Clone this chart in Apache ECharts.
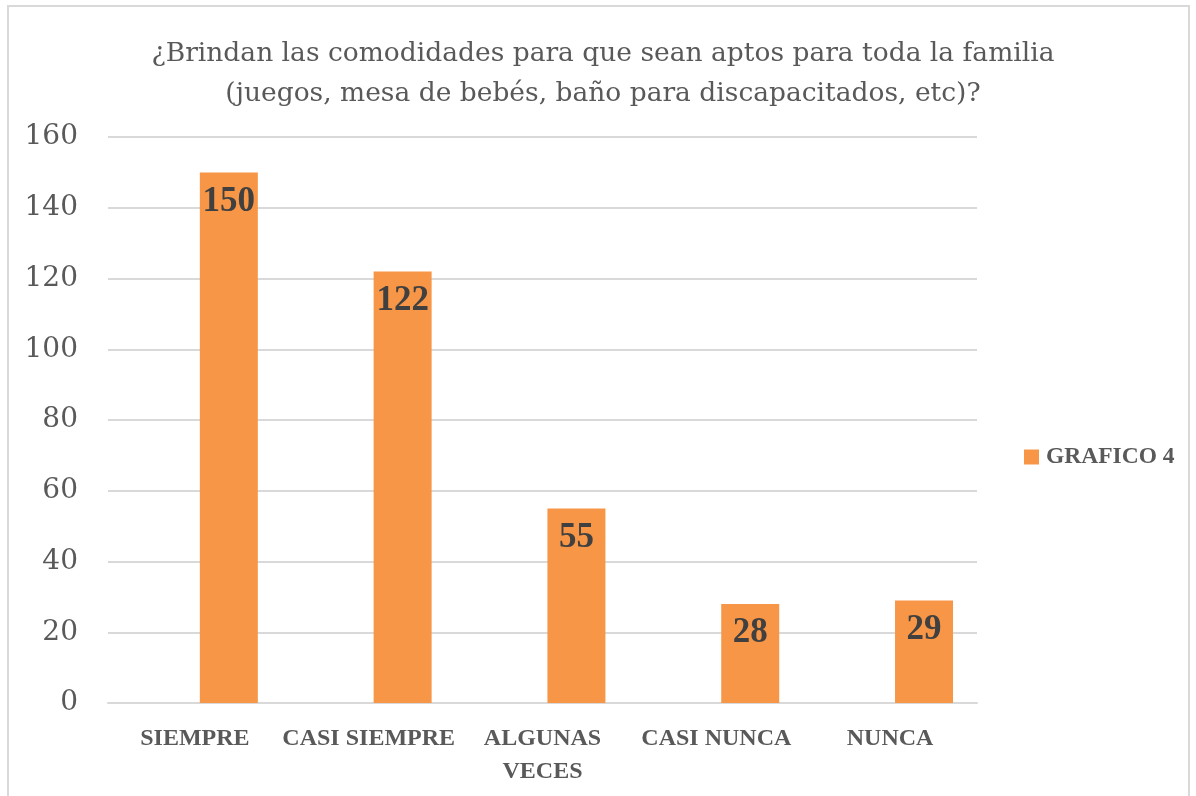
<!DOCTYPE html>
<html>
<head>
<meta charset="utf-8">
<script src="https://cdn.jsdelivr.net/npm/echarts@6/dist/echarts.min.js"></script>
<style>
  html, body { margin: 0; padding: 0; background: #fff; }
  #box { position: absolute; left: 7px; top: 5px; width: 1183px; height: 800px; border: 2px solid #d9d9d9; box-sizing: border-box; }
  #main { position: absolute; left: 0; top: 0; width: 1196px; height: 796px; }
</style>
</head>
<body>
<div id="box"></div>
<div id="main"></div>
<script>
var categories = ['SIEMPRE', 'CASI SIEMPRE', 'ALGUNAS\nVECES', 'CASI NUNCA', 'NUNCA'];
var values = [150, 122, 55, 28, 29];
var emptyValues = [null, null, null, null, null]; // serie vacia de Excel que desplaza las barras
var yTicks = { min: 0, max: 160, interval: 20 };

var serif = '"DejaVu Serif", "Liberation Serif", serif';
var serifBold = '"Liberation Serif", "DejaVu Serif", serif';
var chart = echarts.init(document.getElementById('main'));
var option = {
  animation: false,
  title: {
    text: '¿Brindan las comodidades para que sean aptos para toda la familia\n(juegos, mesa de bebés, baño para discapacitados, etc)?',
    left: 598,
    textAlign: 'center',
    top: 29,
    textStyle: { fontFamily: serif, fontWeight: 'normal', fontSize: 26.5, color: '#595959', lineHeight: 40 }
  },
  legend: {
    data: ['GRAFICO 4'],
    left: 1019,
    top: 440,
    itemWidth: 15,
    itemHeight: 15,
    icon: 'rect',
    itemGap: 6,
    textStyle: { fontFamily: serifBold, fontWeight: 'bold', fontSize: 23.5, color: '#595959', padding: [0, 0, 0, 2] }
  },
  grid: { left: 108, right: 219, top: 137, bottom: 93, containLabel: false },
  xAxis: {
    type: 'category',
    data: categories,
    axisLine: { lineStyle: { color: '#d9d9d9', width: 2 } },
    axisTick: { show: false },
    axisLabel: { interval: 0, margin: 19, fontFamily: serifBold, fontWeight: 'bold', fontSize: 24, color: '#595959', lineHeight: 33 }
  },
  yAxis: {
    type: 'value',
    min: yTicks.min,
    max: yTicks.max,
    interval: yTicks.interval,
    axisLine: { show: false },
    axisTick: { show: false },
    axisLabel: { margin: 30, fontFamily: serif, fontSize: 28, color: '#595959' },
    splitLine: { lineStyle: { color: '#d9d9d9', width: 2 } }
  },
  series: [
    {
      name: 'vacia',
      type: 'bar',
      data: emptyValues,
      barWidth: 58,
      barGap: '17%'
    },
    {
      name: 'GRAFICO 4',
      type: 'bar',
      data: values,
      barWidth: 58,
      barGap: '17%',
      itemStyle: { color: '#f79646' },
      label: {
        show: true,
        position: 'insideTop',
        distance: 12,
        fontFamily: serifBold,
        fontWeight: 'bold',
        fontSize: 35,
        color: '#404040'
      }
    }
  ]
};
chart.setOption(option);
</script>
</body>
</html>
